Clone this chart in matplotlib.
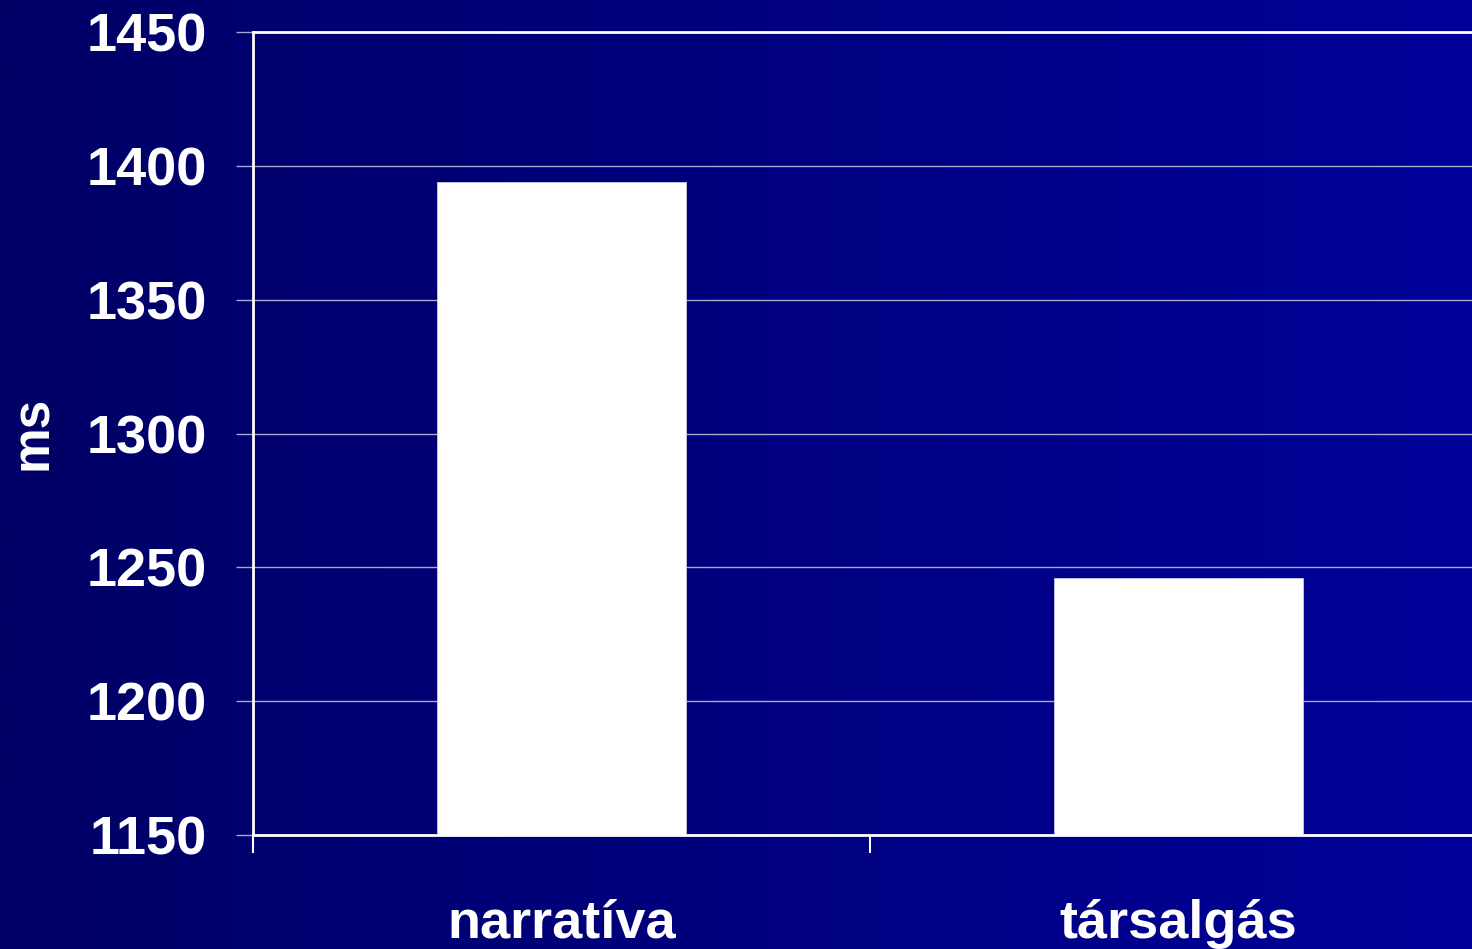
import matplotlib
matplotlib.use("Agg")
import matplotlib.pyplot as plt
import numpy as np
from matplotlib.colors import LinearSegmentedColormap

categories = ["narratíva", "társalgás"]
values = [1394, 1246]
yticks = [1150, 1200, 1250, 1300, 1350, 1400, 1450]
ylabel = "ms"

W, H = 1472, 949
fig = plt.figure(figsize=(W / 100, H / 100), dpi=100)

# gradient background
bg = fig.add_axes([0, 0, 1, 1], zorder=-10)
cmap = LinearSegmentedColormap.from_list("bg", ["#000066", "#000098"])
grad = np.linspace(0, 1, 512).reshape(1, -1)
bg.imshow(grad, aspect="auto", cmap=cmap, extent=[0, 1, 0, 1])
bg.set_axis_off()

left = 253 / W
bottom = 1 - 835 / H
top = 1 - 32 / H
ax = fig.add_axes([left, bottom, 1 - left, top - bottom])
ax.patch.set_alpha(0)

cat_w = 617
xmax = (W - 253) / cat_w
x = np.arange(len(categories)) + 0.5
ax.bar(x, values, width=0.405, color="white", edgecolor="#c8c8e0", linewidth=0.6, zorder=3)

ax.set_yticks(yticks)
ax.set_yticklabels([str(t) for t in yticks])

grid_color = "#a8a8d0"
ax.yaxis.grid(True, color=grid_color, linewidth=1.0, zorder=1)
ax.set_axisbelow(True)

for s in ["left", "bottom", "top"]:
    ax.spines[s].set_color("white")
    ax.spines[s].set_linewidth(2)
ax.spines["right"].set_visible(False)

ax.tick_params(axis="y", direction="out", length=12, width=1, color=grid_color,
               pad=21, labelsize=39, labelcolor="white")
for lab in ax.get_yticklabels():
    lab.set_fontweight("bold")
    lab.set_fontfamily("Liberation Sans")

# category ticks
ax.set_xticks([0, 1, 2])
ax.set_xticklabels(["", "", ""])
ax.tick_params(axis="x", which="major", direction="out", length=13, width=1.5, color="white")
ax.set_xticks(x, minor=True)
ax.set_xticklabels(categories, minor=True)
ax.tick_params(axis="x", which="minor", length=0, pad=46, labelsize=39, labelcolor="white")
for lab in ax.get_xticklabels(minor=True):
    lab.set_fontweight("bold")
    lab.set_fontfamily("Liberation Sans")

ax.set_xlim(0, xmax)
ax.set_ylim(1150, 1450)

fig.text(47 / W, 1 - 433 / H, ylabel, rotation=90, rotation_mode="anchor",
         ha="center", va="baseline", color="white", fontsize=37,
         fontweight="bold", fontfamily="Liberation Sans")

fig.savefig("out.png", dpi=100)
